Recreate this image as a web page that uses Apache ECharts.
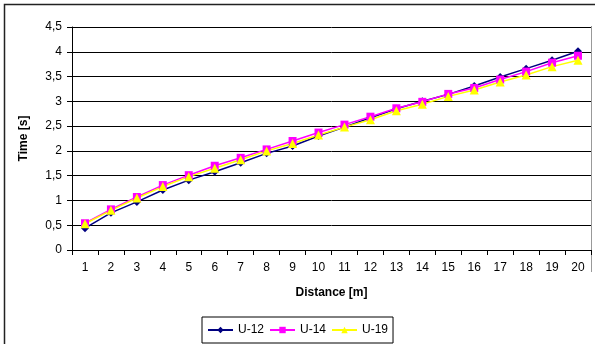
<!DOCTYPE html>
<html>
<head>
<meta charset="utf-8">
<script src="https://cdn.jsdelivr.net/npm/echarts@6/dist/echarts.min.js"></script>
<style>
  html, body { margin: 0; padding: 0; background: #fff; }
  #chart { width: 595px; height: 344px; }
</style>
</head>
<body>
<div id="chart"></div>
<script>
// Distance in metres (category axis)
const distances = ['1','2','3','4','5','6','7','8','9','10','11','12','13','14','15','16','17','18','19','20'];

// Split times in seconds per age group
const u12 = [0.44, 0.75, 0.97, 1.21, 1.41, 1.58, 1.76, 1.95, 2.10, 2.30, 2.48, 2.67, 2.85, 3.00, 3.14, 3.31, 3.49, 3.66, 3.83, 4.01];
const u14 = [0.54, 0.82, 1.07, 1.31, 1.51, 1.70, 1.86, 2.03, 2.20, 2.37, 2.53, 2.69, 2.86, 2.99, 3.15, 3.27, 3.44, 3.60, 3.78, 3.92];
const u19 = [0.53, 0.80, 1.05, 1.28, 1.48, 1.65, 1.82, 2.00, 2.15, 2.32, 2.48, 2.63, 2.81, 2.94, 3.10, 3.23, 3.39, 3.53, 3.70, 3.83];

const FONT = 'Liberation Sans, Arial, sans-serif';

const chart = echarts.init(document.getElementById('chart'), null, { renderer: 'canvas' });

function lineSeries(name, data, color, symbol, size) {
  return {
    name, type: 'line', data,
    symbol, symbolSize: size,
    lineStyle: { color, width: 1.5 },
    itemStyle: { color },
    emphasis: { disabled: true },
    animation: false
  };
}

chart.setOption({
  animation: false,
  textStyle: { fontFamily: FONT },
  grid: { left: 72, top: 27, width: 519, height: 223 },
  xAxis: {
    type: 'category',
    data: distances,
    boundaryGap: true,
    name: 'Distance [m]',
    nameLocation: 'middle',
    nameGap: 37,
    nameTextStyle: { fontFamily: FONT, fontSize: 12, fontWeight: 'bold', color: '#000' },
    axisLine: { lineStyle: { color: '#000', width: 1 } },
    axisTick: { show: true, length: 5, alignWithLabel: false, lineStyle: { color: '#000' } },
    axisLabel: { fontFamily: FONT, fontSize: 12, color: '#000', margin: 12, interval: 0 },
    splitLine: { show: false }
  },
  yAxis: {
    type: 'value',
    min: 0, max: 4.5, interval: 0.5,
    name: 'Time [s]',
    nameLocation: 'middle',
    nameGap: 42,
    nameRotate: 90,
    nameTextStyle: { fontFamily: FONT, fontSize: 12, fontWeight: 'bold', color: '#000' },
    axisLine: { show: true, lineStyle: { color: '#000', width: 1 } },
    axisTick: { show: true, length: 5, lineStyle: { color: '#000' } },
    axisLabel: {
      fontFamily: FONT, fontSize: 12, color: '#000', margin: 10,
      formatter: v => String(v).replace('.', ',')
    },
    splitLine: { show: true, lineStyle: { color: '#000', width: 1 } }
  },
  legend: {
    left: 202, top: 317,
    data: ['U-12', 'U-14', 'U-19'],
    itemWidth: 25, itemHeight: 8, itemGap: 5,
    padding: [7, 5, 7, 5],
    borderColor: '#000', borderWidth: 1,
    textStyle: { fontFamily: FONT, fontSize: 12, color: '#000' }
  },
  graphic: [
    {
      type: 'rect', silent: true,
      shape: { x: 4.5, y: 4.5, width: 600, height: 400 },
      style: { fill: null, stroke: '#222', lineWidth: 1.5 }
    },
    {
      type: 'line', silent: true,
      shape: { x1: 591.5, y1: 26, x2: 591.5, y2: 272 },
      style: { stroke: '#999', lineWidth: 1 }
    }
  ],
  series: [
    lineSeries('U-12', u12, '#000080', 'diamond', 8),
    lineSeries('U-14', u14, '#FF00FF', 'rect', 8),
    lineSeries('U-19', u19, '#FFFF00', 'triangle', 9)
  ]
});
</script>
</body>
</html>
